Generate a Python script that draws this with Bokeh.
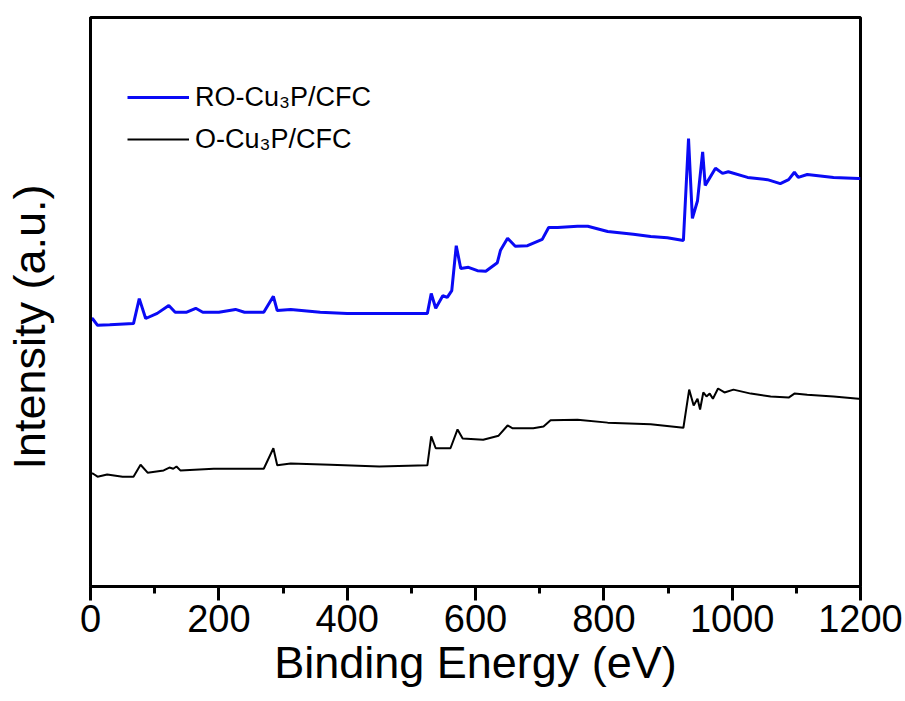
from bokeh.plotting import figure
from bokeh.models import Range1d, FixedTicker, Legend, LegendItem
from bokeh.embed import file_html
from bokeh.resources import INLINE

# Binding energy (eV) and intensity (a.u.)
be_ro = [0, 3, 11, 30, 67, 76, 86, 104, 122, 132, 150, 164, 175, 200, 226, 240,
         270, 285, 291, 312, 358, 400, 483, 525, 531, 538, 549, 556, 563, 570,
         577, 589, 603, 616, 634, 639, 650, 662, 681, 704, 714, 728, 759, 775,
         806, 846, 873, 899, 924, 932, 938, 946, 954, 958, 974, 985, 994, 1024,
         1055, 1075, 1088, 1097, 1103, 1117, 1158, 1197, 1200]
int_ro = [46.9, 47.1, 45.9, 46.0, 46.2, 50.6, 47.1, 48.0, 49.4, 48.2, 48.2, 48.9,
          48.2, 48.2, 48.7, 48.2, 48.2, 51.0, 48.5, 48.7, 48.2, 48.0, 48.0, 48.0,
          51.5, 48.9, 51.1, 50.8, 52.0, 59.9, 55.9, 56.1, 55.5, 55.4, 56.9, 59.1,
          61.2, 59.8, 59.9, 61.0, 63.1, 63.1, 63.3, 63.3, 62.4, 61.9, 61.5, 61.3,
          60.8, 78.7, 64.7, 67.8, 76.4, 70.5, 73.5, 72.6, 72.9, 71.9, 71.5, 70.8,
          71.5, 72.8, 71.9, 72.4, 71.9, 71.7, 71.7]

be_o = [0, 3, 11, 26, 50, 67, 78, 89, 114, 123, 129, 134, 140, 192, 230, 270,
        285, 291, 312, 374, 450, 525, 531, 538, 561, 572, 580, 612, 636, 650,
        658, 690, 706, 717, 759, 806, 873, 924, 933, 940, 946, 950, 955, 960,
        965, 970, 978, 988, 1002, 1029, 1060, 1088, 1097, 1117, 1158, 1197, 1200]
int_o = [19.7, 19.9, 19.3, 19.7, 19.3, 19.3, 21.4, 20.0, 20.4, 20.9, 20.7, 21.1,
         20.4, 20.7, 20.7, 20.7, 24.3, 21.3, 21.6, 21.4, 21.1, 21.3, 26.4, 24.3,
         24.3, 27.6, 26.0, 25.8, 26.5, 28.3, 27.8, 27.8, 28.1, 29.2, 29.3, 28.8,
         28.5, 27.9, 34.6, 31.8, 33.0, 31.1, 34.1, 33.4, 33.9, 33.0, 34.8, 34.1,
         34.6, 33.9, 33.4, 33.2, 33.9, 33.7, 33.4, 33.0, 33.0]

x_ticks = [0, 200, 400, 600, 800, 1000, 1200]
x_minor = [100, 300, 500, 700, 900, 1100]
labels = ["RO-Cu\u2083P/CFC", "O-Cu\u2083P/CFC"]

FONT = "Liberation Sans"

p = figure(width=905, height=701, output_backend="svg", toolbar_location=None,
           x_range=Range1d(0, 1200), y_range=Range1d(0, 100),
           min_border_left=90, min_border_right=45, min_border_top=17,
           min_border_bottom=115)
p.background_fill_color = "white"
p.border_fill_color = "white"
p.grid.visible = False
p.outline_line_color = "black"
p.outline_line_width = 3

r_ro = p.line(be_ro, int_ro, line_color="#0a0af5", line_width=3)
r_o = p.line(be_o, int_o, line_color="black", line_width=2)

xa = p.xaxis[0]
xa.ticker = FixedTicker(ticks=x_ticks, minor_ticks=x_minor)
xa.axis_line_width = 3
xa.major_tick_line_width = 3
xa.minor_tick_line_width = 3
xa.major_tick_out = 14
xa.major_tick_in = 0
xa.minor_tick_out = 7
xa.minor_tick_in = 0
xa.major_label_text_font = FONT
xa.major_label_text_font_size = "38px"
xa.major_label_text_color = "black"
xa.major_label_standoff = 4
xa.axis_label = "Binding Energy (eV)"
xa.axis_label_text_font = FONT
xa.axis_label_text_font_size = "45px"
xa.axis_label_text_font_style = "normal"
xa.axis_label_text_color = "black"
xa.axis_label_standoff = 2

ya = p.yaxis[0]
ya.ticker = FixedTicker(ticks=[], minor_ticks=[])
ya.axis_line_width = 3
ya.major_tick_out = 0
ya.major_tick_in = 0
ya.minor_tick_out = 0
ya.minor_tick_in = 0
ya.major_label_text_font_size = "0px"
ya.axis_label = "Intensity (a.u.)\u00a0\u00a0\u00a0\u00a0"
ya.axis_label_text_font = FONT
ya.axis_label_text_font_size = "45px"
ya.axis_label_text_font_style = "normal"
ya.axis_label_text_color = "black"
ya.axis_label_standoff = 36

legend = Legend(items=[LegendItem(label=labels[0], renderers=[r_ro]),
                       LegendItem(label=labels[1], renderers=[r_o])],
                location=(37, 431), orientation="vertical")
legend.border_line_color = None
legend.background_fill_alpha = 0
legend.padding = 0
legend.margin = 0
legend.spacing = 10
legend.glyph_width = 62
legend.glyph_height = 32
legend.label_height = 32
legend.label_standoff = 6
legend.label_text_font = FONT
legend.label_text_font_size = "27px"
legend.label_text_color = "black"
p.add_layout(legend)

open("out.html", "w").write(file_html(p, INLINE))
